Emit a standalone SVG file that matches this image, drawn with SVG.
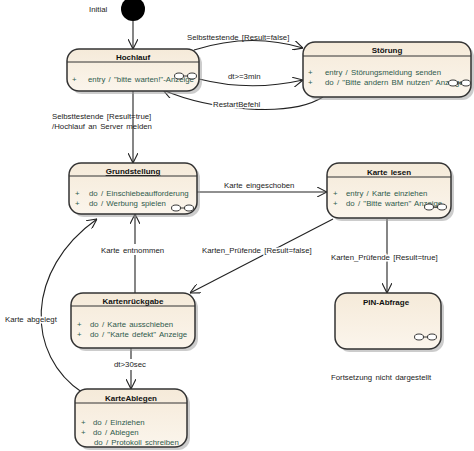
<svg xmlns="http://www.w3.org/2000/svg" width="474" height="451" viewBox="0 0 474 451">
<style>
text{font-family:"Liberation Sans",Arial,sans-serif;font-size:7.8px;word-spacing:1.1px}
.t{font-weight:bold;text-anchor:middle;fill:#111;font-size:8px}
.b{fill:#2e5a4c}
.l{fill:#222}
.h{paint-order:stroke;stroke:#fff;stroke-width:3px}
.box{fill:url(#g);stroke:#333;stroke-width:1.5}
.sh{fill:#999;opacity:0.5}
.sep{stroke:#333;stroke-width:1}
.c{fill:none;stroke:#222;stroke-width:1.1}
.ic{fill:#fff;stroke:#222;stroke-width:0.9}
</style>
<defs>
<linearGradient id="g" x1="0" y1="0" x2="0" y2="1">
<stop offset="0" stop-color="#f5ead9"/>
<stop offset="1" stop-color="#fbf5ec"/>
</linearGradient>
<marker id="a" viewBox="0 0 10 10" refX="10" refY="5" markerWidth="10" markerHeight="10" markerUnits="userSpaceOnUse" orient="auto">
<path d="M0,0 L10,5 L0,10" fill="none" stroke="#222" stroke-width="1.1"/>
</marker>
<g id="oo"><ellipse class="ic" cx="0" cy="0" rx="4.5" ry="3"/><ellipse class="ic" cx="13" cy="0" rx="4.5" ry="3"/><line x1="4.5" y1="0" x2="8.5" y2="0" stroke="#222" stroke-width="0.9"/></g>
</defs>
<rect width="474" height="451" fill="#fff"/>

<g id="initial">
<circle cx="133" cy="9" r="12" fill="#000"/>
<text x="89" y="12" class="l">Initial</text>
</g>

<g id="connectors">
<line class="c" x1="133" y1="21" x2="133" y2="49" marker-end="url(#a)"/>
<path class="c" d="M194,50 Q250,32 303,48" marker-end="url(#a)"/>
<text x="187" y="40" class="l">Selbsttestende  [Result=false]</text>
<path class="c" d="M199,79 Q250,92 303,80" marker-end="url(#a)"/>
<text x="228" y="79" class="l">dt&gt;=3min</text>
<path class="c" d="M323,97 C290,118 210,110 163,90" marker-end="url(#a)"/>
<text x="213" y="107" class="l h">RestartBefehl</text>
<line class="c" x1="133" y1="91" x2="133" y2="163" marker-end="url(#a)" stroke-width="1.3"/>
<text x="52" y="119" class="l">Selbsttestende  [Result=true]</text>
<text x="52" y="129" class="l">/Hochlauf  an  Server  melden</text>
<line class="c" x1="197" y1="192" x2="327" y2="192" marker-end="url(#a)"/>
<text x="224" y="188" class="l">Karte  eingeschoben</text>
<line class="c" x1="333" y1="219" x2="190" y2="293" marker-end="url(#a)"/>
<text x="202" y="253" class="l h">Karten_Prüfende   [Result=false]</text>
<line class="c" x1="387" y1="219" x2="387" y2="293" marker-end="url(#a)"/>
<text x="331" y="260" class="l h">Karten_Prüfende    [Result=true]</text>
<line class="c" x1="135" y1="293" x2="135" y2="214" marker-end="url(#a)"/>
<rect x="100" y="244" width="64" height="11" fill="#fff"/>
<text x="101" y="253" class="l">Karte  entnommen</text>
<line class="c" x1="131" y1="348" x2="131" y2="389" marker-end="url(#a)" stroke-width="1.4"/>
<rect x="113" y="359" width="36" height="11" fill="#fff"/>
<text x="114" y="367" class="l">dt&gt;30sec</text>
<path class="c" d="M83,393 C25,355 25,270 97,219" marker-end="url(#a)"/>
<text x="5" y="322" class="l h">Karte  abgelegt</text>
</g>

<g id="hochlauf">
<rect class="sh" x="70" y="52" width="132" height="42" rx="12"/>
<rect class="box" x="67" y="49" width="132" height="42" rx="12"/>
<line class="sep" x1="67" y1="62" x2="199" y2="62"/>
<text x="133" y="60" class="t">Hochlauf</text>
<text x="72" y="82" class="b">+</text>
<text x="88" y="82" class="b">entry  /  "bitte  warten!"-Anzeige</text>
<use href="#oo" x="179" y="76"/>
</g>

<g id="stoerung">
<rect class="sh" x="306" y="45" width="168" height="55" rx="12"/>
<rect class="box" x="303" y="42" width="168" height="55" rx="12"/>
<line class="sep" x1="303" y1="56" x2="471" y2="56"/>
<text x="387" y="53" class="t">Störung</text>
<text x="308" y="75" class="b">+</text>
<text x="325" y="75" class="b">entry / Störungsmeldung  senden</text>
<text x="308" y="85" class="b">+</text>
<text x="325" y="85" class="b">do / "Bitte  andern  BM  nutzen"  Anzeige</text>
<use href="#oo" x="453" y="83"/>
</g>

<g id="grundstellung">
<rect class="sh" x="72" y="166" width="128" height="51" rx="12"/>
<rect class="box" x="69" y="163" width="128" height="51" rx="12"/>
<line class="sep" x1="69" y1="176" x2="197" y2="176"/>
<text x="133" y="174" class="t" text-decoration="underline">Grundstellung</text>
<text x="75" y="196" class="b">+</text>
<text x="89" y="196" class="b">do / Einschiebeaufforderung</text>
<text x="75" y="206" class="b">+</text>
<text x="89" y="206" class="b">do / Werbung  spielen</text>
<use href="#oo" x="176" y="208"/>
</g>

<g id="kartelesen">
<rect class="sh" x="330" y="166" width="124" height="55" rx="12"/>
<rect class="box" x="327" y="163" width="124" height="55" rx="12"/>
<line class="sep" x1="327" y1="177" x2="451" y2="177"/>
<text x="389" y="175" class="t">Karte  lesen</text>
<text x="333" y="196" class="b">+</text>
<text x="346" y="196" class="b">entry / Karte  einziehen</text>
<text x="333" y="206" class="b">+</text>
<text x="346" y="206" class="b">do / "Bitte  warten"  Anzeige</text>
<use href="#oo" x="429" y="207"/>
</g>

<g id="pinabfrage">
<rect class="sh" x="338" y="296" width="106" height="56" rx="12"/>
<rect class="box" x="335" y="293" width="106" height="56" rx="12"/>
<text x="386" y="305" class="t">PIN-Abfrage</text>
<use href="#oo" x="419" y="337"/>
</g>

<text x="331" y="380" class="l">Fortsetzung  nicht  dargestellt</text>

<g id="kartenrueckgabe">
<rect class="sh" x="74" y="296" width="124" height="55" rx="12"/>
<rect class="box" x="71" y="293" width="124" height="55" rx="12"/>
<line class="sep" x1="71" y1="306" x2="195" y2="306"/>
<text x="133" y="304" class="t">Kartenrückgabe</text>
<text x="77" y="327" class="b">+</text>
<text x="90" y="327" class="b">do / Karte  ausschieben</text>
<text x="77" y="337" class="b">+</text>
<text x="90" y="337" class="b">do / "Karte  defekt"  Anzeige</text>
</g>

<g id="karteablegen">
<rect class="sh" x="78" y="392" width="112" height="58" rx="12"/>
<rect class="box" x="75" y="389" width="112" height="58" rx="12"/>
<line class="sep" x1="75" y1="403" x2="187" y2="403"/>
<text x="131" y="401" class="t">KarteAblegen</text>
<text x="81" y="425" class="b">+</text>
<text x="93" y="425" class="b">do / Einziehen</text>
<text x="81" y="435" class="b">+</text>
<text x="93" y="435" class="b">do / Ablegen</text>
<text x="94" y="445" class="b">do / Protokoll  schreiben</text>
</g>
</svg>
